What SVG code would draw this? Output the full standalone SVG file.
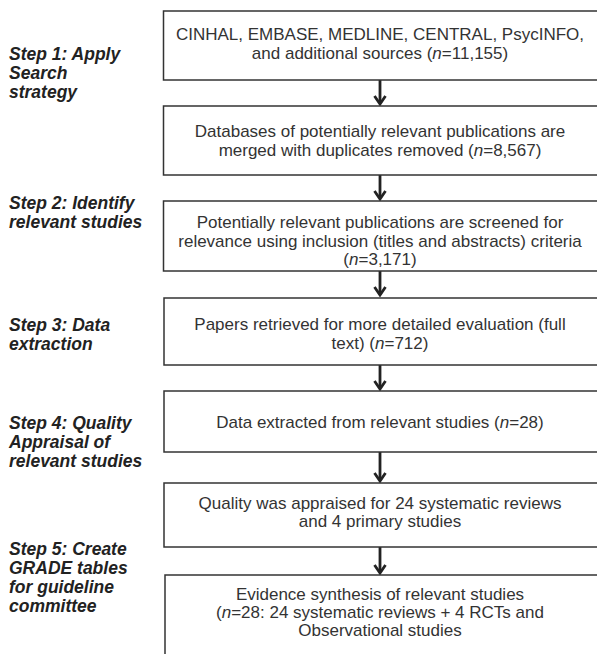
<svg xmlns="http://www.w3.org/2000/svg" width="597" height="654" viewBox="0 0 597 654">
<defs>
<style>
.box{fill:#fff;stroke:#333;stroke-width:1.5}
.t{font-family:"Liberation Sans",Arial,sans-serif;font-size:17px;fill:#333;text-anchor:middle}
.lbl{font-family:"Liberation Sans",Arial,sans-serif;font-size:17.5px;font-weight:bold;font-style:italic;fill:#222}
.arr{stroke:#222;stroke-width:2.8;fill:none}
.head{stroke:#222;stroke-width:2.8;fill:none;stroke-linejoin:miter}
</style>
</defs>
<rect width="597" height="654" fill="#fff"/>
<g id="labels">
<text class="lbl" x="9" y="60">Step 1: Apply</text>
<text class="lbl" x="9" y="79">Search</text>
<text class="lbl" x="9" y="98">strategy</text>
<text class="lbl" x="9" y="209">Step 2: Identify</text>
<text class="lbl" x="9" y="228">relevant studies</text>
<text class="lbl" x="9" y="331">Step 3: Data</text>
<text class="lbl" x="9" y="350">extraction</text>
<text class="lbl" x="9" y="429">Step 4: Quality</text>
<text class="lbl" x="9" y="448">Appraisal of</text>
<text class="lbl" x="9" y="467">relevant studies</text>
<text class="lbl" x="9" y="555">Step 5: Create</text>
<text class="lbl" x="9" y="574">GRADE tables</text>
<text class="lbl" x="9" y="593">for guideline</text>
<text class="lbl" x="9" y="612">committee</text>
</g>
<g id="connectors">
<path class="arr" d="M380 80V103"/><path class="head" d="M374.5 96L380 104L385.5 96"/>
<path class="arr" d="M380 175V198"/><path class="head" d="M374.5 191L380 199L385.5 191"/>
<path class="arr" d="M380 271V295"/><path class="head" d="M374.5 287L380 295L385.5 287"/>
<path class="arr" d="M380 365V388"/><path class="head" d="M374.5 381L380 389L385.5 381"/>
<path class="arr" d="M380 452V480"/><path class="head" d="M374.5 473L380 481L385.5 473"/>
<path class="arr" d="M380 547V572"/><path class="head" d="M374.5 565L380 573L385.5 565"/>
</g>
<g id="n1">
<rect class="box" x="163.5" y="11" width="445" height="69"/>
<text class="t" x="380" y="40">CINHAL, EMBASE, MEDLINE, CENTRAL, PsycINFO,</text>
<text class="t" x="380" y="59">and additional sources (<tspan font-style="italic">n</tspan>=11,155)</text>
</g>
<g id="n2">
<rect class="box" x="163.5" y="106" width="445" height="69"/>
<text class="t" x="380" y="137">Databases of potentially relevant publications are</text>
<text class="t" x="380" y="156">merged with duplicates removed (<tspan font-style="italic">n</tspan>=8,567)</text>
</g>
<g id="n3">
<rect class="box" x="163.5" y="201" width="445" height="70"/>
<text class="t" x="380" y="228">Potentially relevant publications are screened for</text>
<text class="t" x="380" y="247">relevance using inclusion (titles and abstracts) criteria</text>
<text class="t" x="380" y="265">(<tspan font-style="italic">n</tspan>=3,171)</text>
</g>
<g id="n4">
<rect class="box" x="164" y="298" width="445" height="67"/>
<text class="t" x="380" y="330">Papers retrieved for more detailed evaluation (full</text>
<text class="t" x="380" y="349">text) (<tspan font-style="italic">n</tspan>=712)</text>
</g>
<g id="n5">
<rect class="box" x="164" y="391" width="445" height="61"/>
<text class="t" x="380" y="428">Data extracted from relevant studies (<tspan font-style="italic">n</tspan>=28)</text>
</g>
<g id="n6">
<rect class="box" x="164" y="483" width="445" height="64"/>
<text class="t" x="380" y="509">Quality was appraised for 24 systematic reviews</text>
<text class="t" x="380" y="527">and 4 primary studies</text>
</g>
<g id="n7">
<rect class="box" x="165" y="575" width="445" height="100"/>
<text class="t" x="380" y="600">Evidence synthesis of relevant studies</text>
<text class="t" x="380" y="618">(<tspan font-style="italic">n</tspan>=28: 24 systematic reviews + 4 RCTs and</text>
<text class="t" x="380" y="636">Observational studies</text>
</g>
</svg>
